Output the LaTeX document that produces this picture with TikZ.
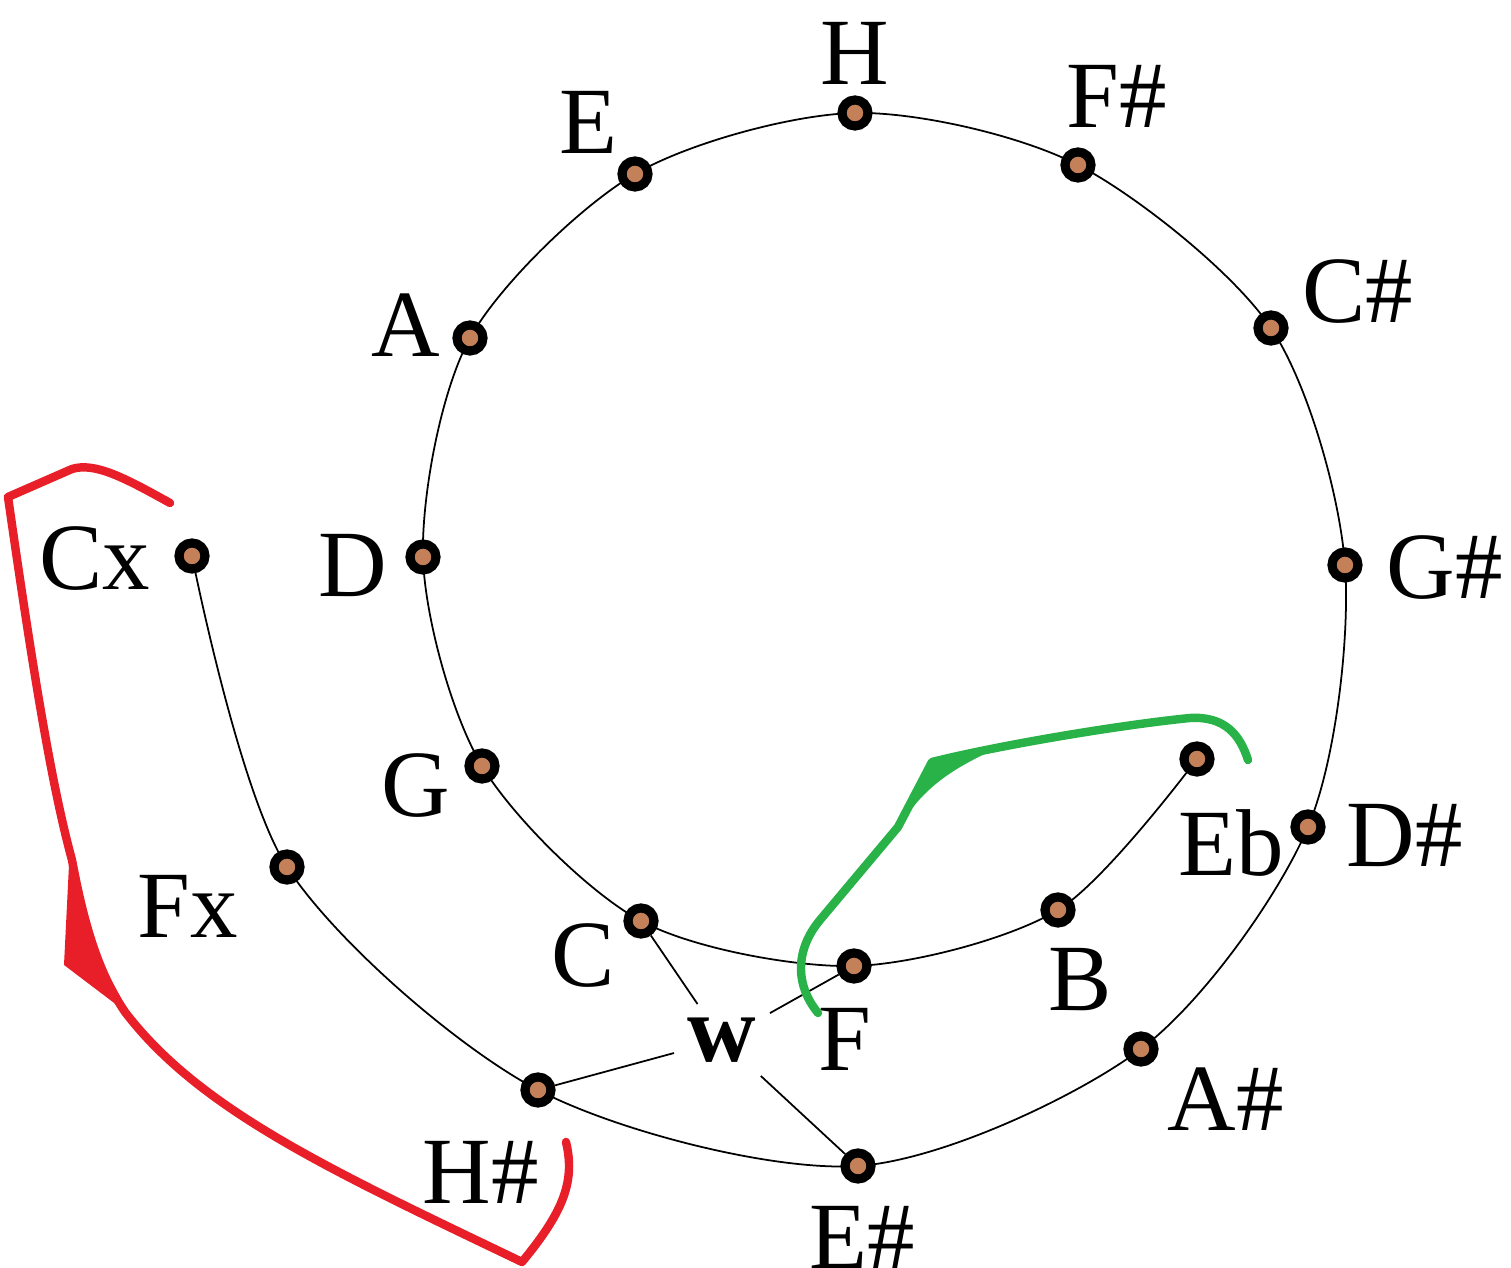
\documentclass[tikz,border=0pt]{standalone}
\usepackage{fontspec}
\setmainfont{Liberation Serif}
\usetikzlibrary{backgrounds}
\definecolor{notebrown}{RGB}{196,128,88}
\definecolor{penred}{RGB}{232,30,40}
\definecolor{pengreen}{RGB}{40,178,72}
\begin{document}
\begin{tikzpicture}[x = 0.01cm, y = -0.01cm,
        dot/.style = {circle, fill = notebrown, draw = black, line width = 2.6pt, minimum size = 0.26cm, inner sep = 0pt},
        note/.style = {inner sep = 0pt, font = \fontsize{27}{30}\selectfont},
        pen/.style = {line width = 2.4pt, line cap = round, line join = round}]
        \useasboundingbox (0, 0) rectangle (1511, 1268);
        \foreach \n/\x/\y in {eb/1197/759, b/1058/910, f/854/966, c/641/921, g/482/766, d/423/557, a/470/338, e/635/174, h/855/113, fs/1078/165, cs/1271/328, gs/1345/565, ds/1308/827, as/1141/1049, es/858/1166, hs/538/1090, fx/287/867, cx/192/556}{
            \node[dot] (\n) at (\x, \y) {};
        }
        \foreach \n/\x/\y/\t in {eb/1231/843/Eb, b/1080/980/B, f/845/1039/F, c/583/956/C, g/416/786/G, d/353/566/D, a/406/325/A, e/588/122/E, h/855/53/H, fs/1117/96/{F\#}, cs/1358/292/{C\#}, gs/1445/568/{G\#}, ds/1405/836/{D\#}, as/1226/1099/{A\#}, es/862/1237/{E\#}, hs/481/1172/{H\#}, fx/188/906/Fx, cx/95/559/Cx}{
            \node[note] (l\n) at (\x, \y) {\t};
        }
        \node[note, font = \fontsize{27}{30}\selectfont\bfseries, inner sep = 0.13cm] (w) at (722, 1040) {w};
        \begin{scope}[on background layer]
            \draw[line width = 0.5pt] plot[smooth] coordinates {(eb.center) (b.center) (f.center) (c.center) (g.center) (d.center) (a.center) (e.center) (h.center) (fs.center) (cs.center) (gs.center) (ds.center) (as.center) (es.center) (hs.center) (fx.center) (cx.center)};
            \foreach \n in {c, f, hs, es}{
                \draw[line width = 0.5pt] (w) -- (\n);
            }
        \end{scope}
        \draw[pen, penred] (170, 503) .. controls (125, 478) and (95, 462) .. (72, 469) -- (8, 497) .. controls (30, 650) and (50, 780) .. (72, 860) .. controls (85, 930) and (100, 975) .. (125, 1012) .. controls (200, 1110) and (330, 1170) .. (522, 1262) .. controls (565, 1210) and (575, 1180) .. (566, 1142);
        \fill[penred] (70, 845) -- (64, 965) -- (130, 1015) -- (95, 950) -- cycle;
        \draw[pen, pengreen] (818, 1013) .. controls (795, 985) and (795, 950) .. (820, 920) -- (898, 827) -- (932, 762) .. controls (1000, 745) and (1120, 725) .. (1190, 718) .. controls (1225, 716) and (1240, 735) .. (1248, 760);
        \fill[pengreen] (932, 760) -- (993, 750) .. controls (950, 770) and (920, 790) .. (898, 830) -- cycle;
\end{tikzpicture}
\end{document}
